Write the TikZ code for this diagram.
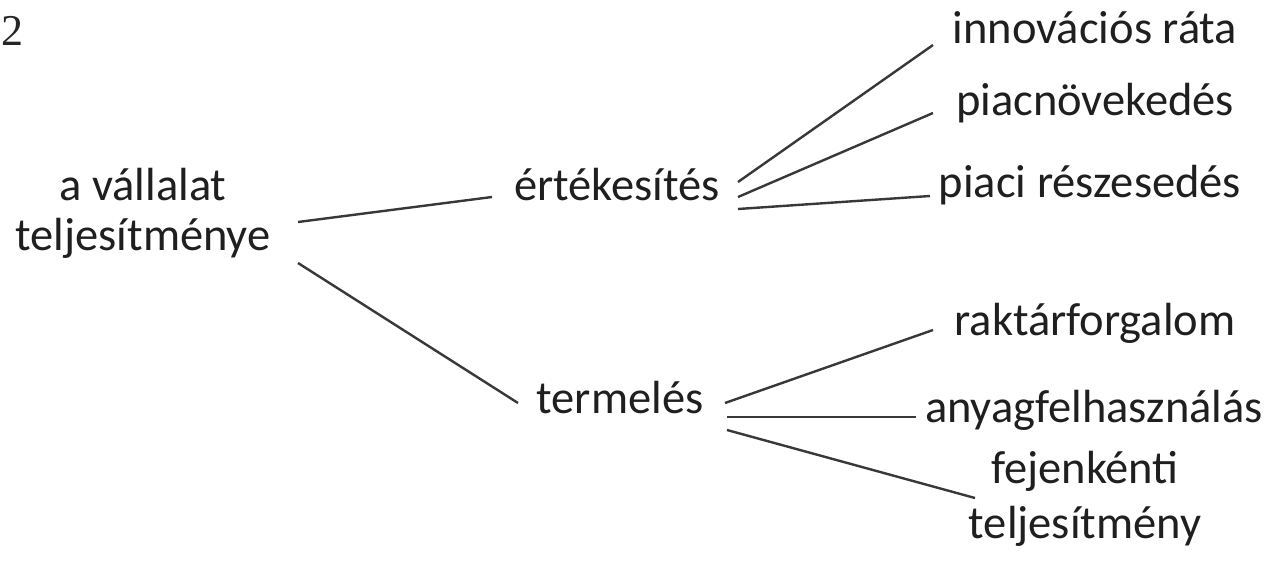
\documentclass[tikz,border=0pt]{standalone}
\usepackage{fontspec}
\setmainfont{Carlito}
\newfontfamily\numfont{Liberation Serif}
\usetikzlibrary{calc}
\begin{document}
\begin{tikzpicture}[x=1pt,y=-1pt,
  lbl/.style={inner sep=0pt, text=black!88, font=\fontsize{46.5}{50}\selectfont, align=center, anchor=base},
  conn/.style={draw=black!78, line width=2.4pt}]
\useasboundingbox (0,0) rectangle (1267,563);
\fill[white] (0,0) rectangle (1267,563);
\node[anchor=base west, inner sep=0pt, text=black!85, font=\numfont\fontsize{44}{44}\selectfont] (num) at (1,45) {2};
% nodes
\node[lbl] (root) at (143,250) {a vállalat\\teljesítménye};
\node[lbl] (ert) at (617,200) {értékesítés};
\node[lbl] (term) at (620,413) {termelés};
\node[lbl] (innov) at (1095,43) {innovációs ráta};
\node[lbl] (piacn) at (1095,115) {piacnövekedés};
\node[lbl] (piaci) at (1090,197) {piaci részesedés};
\node[lbl] (raktar) at (1095,335) {raktárforgalom};
\node[lbl] (anyag) at (1094,422) {anyagfelhasználás};
\node[lbl, font=\fontsize{46.5}{55}\selectfont] (fejenk) at (1085,538) {fejenkénti\\teljesítmény};
% connectors
\draw[conn] ($(root.base)+(155,-28)$) -- ($(ert.base)+(-125,-3)$);
\draw[conn] ($(root.base)+(155,13)$) -- ($(term.base)+(-102,-10)$);
\draw[conn] ($(ert.base)+(121,-18)$) -- ($(innov.base)+(-162,2)$);
\draw[conn] ($(ert.base)+(121,-3)$) -- ($(piacn.base)+(-162,-2)$);
\draw[conn] ($(ert.base)+(121,9)$) -- ($(piaci.base)+(-160,-1)$);
\draw[conn] ($(term.base)+(105,-10)$) -- ($(raktar.base)+(-162,-5)$);
\draw[conn] ($(term.base)+(107,4)$) -- ($(anyag.base)+(-178,-5)$);
\draw[conn] ($(term.base)+(107,17)$) -- ($(fejenk.base)+(-110,-40)$);
\end{tikzpicture}
\end{document}
